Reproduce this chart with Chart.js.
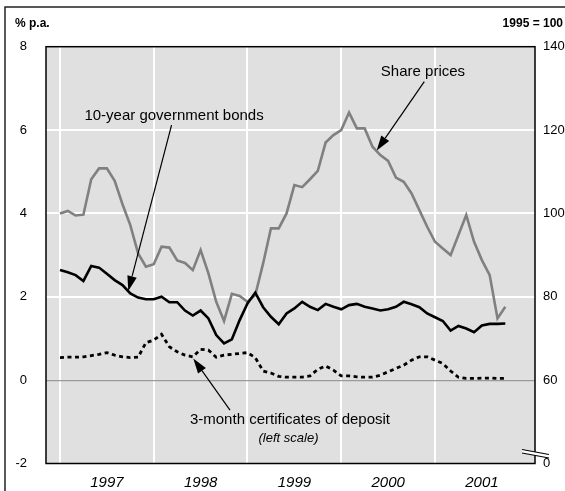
<!DOCTYPE html>
<html><head><meta charset="utf-8">
<script src="https://cdn.jsdelivr.net/npm/chart.js@4/dist/chart.umd.min.js"></script>
<style>html,body{margin:0;padding:0;background:#fff;}canvas{display:block;}</style>
</head><body>
<canvas id="c" width="565" height="491"></canvas>
<script>
// Monthly data, Jan 1997 .. Oct 2001 (index 0 = Jan 1997)
const yearLabels = ['1997', '1998', '1999', '2000', '2001'];
const yearStartMonths = [0, 12, 24, 36, 48];
const sharePrices = [100, 100.6, 99.5, 99.7, 108.2, 110.8, 110.8, 107.8, 102.2, 97.2,
  90.4, 87.2, 87.8, 92.0, 91.8, 88.7, 88.1, 86.4, 91.2, 85.6,
  78.8, 74.2, 80.7, 80.2, 78.8, 80.4, 88.0, 96.4, 96.4, 100.0,
  106.8, 106.3, 108.2, 110.2, 117.0, 118.8, 120.0, 124.2, 120.4, 120.4,
  116.0, 114.0, 112.6, 108.6, 107.6, 104.8, 100.8, 96.8, 93.2, 91.6,
  90.0, 94.8, 99.6, 93.2, 88.8, 85.2, 74.8, 77.6];
const bondYields = [2.64, 2.59, 2.52, 2.38, 2.74, 2.70, 2.55, 2.40, 2.28, 2.08,
  1.98, 1.94, 1.94, 2.00, 1.87, 1.87, 1.67, 1.55, 1.67, 1.48,
  1.08, 0.88, 0.98, 1.44, 1.84, 2.10, 1.75, 1.52, 1.34, 1.60,
  1.72, 1.88, 1.76, 1.68, 1.83, 1.76, 1.70, 1.80, 1.83, 1.76,
  1.72, 1.67, 1.70, 1.76, 1.88, 1.82, 1.75, 1.60, 1.51, 1.42,
  1.19, 1.30, 1.24, 1.15, 1.31, 1.35, 1.35, 1.36];
const cdRates = [0.54, 0.55, 0.55, 0.56, 0.59, 0.62, 0.66, 0.60, 0.56, 0.54,
  0.55, 0.90, 0.96, 1.10, 0.80, 0.68, 0.60, 0.56, 0.74, 0.72,
  0.55, 0.60, 0.62, 0.64, 0.66, 0.54, 0.22, 0.17, 0.09, 0.07,
  0.07, 0.07, 0.10, 0.26, 0.34, 0.24, 0.10, 0.10, 0.08, 0.07,
  0.07, 0.12, 0.20, 0.28, 0.36, 0.48, 0.56, 0.56, 0.48, 0.40,
  0.22, 0.07, 0.04, 0.04, 0.05, 0.05, 0.04, 0.04];
const leftTicks = [-2, 0, 2, 4, 6, 8];
const rightTickValues = [40, 60, 80, 100, 120, 140];
const rightTickLabels = ['0', '60', '80', '100', '120', '140'];

const FONT = "'Liberation Sans', Arial, Helvetica, sans-serif";
const toPoints = arr => arr.map((v, i) => ({x: i, y: v}));

// annotations in data coordinates (x = month index, y = left scale)
const labels = [
  {text: 'Share prices', x: 46.46, y: 7.40, font: '15px ' + FONT},
  {text: '10-year government bonds', x: 14.6, y: 6.34, font: '15px ' + FONT},
  {text: '3-month certificates of deposit', x: 29.44, y: -0.957, font: '15px ' + FONT},
  {text: '(left scale)', x: 29.25, y: -1.39, font: 'italic 13px ' + FONT}
];
const arrows = [
  {from: [46.63, 7.16], to: [40.54, 5.51]},
  {from: [14.28, 6.12], to: [8.74, 2.14]},
  {from: [21.76, -0.72], to: [17.06, 0.52]}
];

function drawArrow(ctx, x1, y1, x2, y2) {
  const ang = Math.atan2(y2 - y1, x2 - x1), L = 15, W = 4.8;
  const bx = x2 - L * Math.cos(ang), by = y2 - L * Math.sin(ang);
  ctx.strokeStyle = '#000'; ctx.lineWidth = 1.2;
  ctx.beginPath(); ctx.moveTo(x1, y1); ctx.lineTo(bx, by); ctx.stroke();
  ctx.fillStyle = '#000';
  ctx.beginPath(); ctx.moveTo(x2, y2);
  ctx.lineTo(bx - W * Math.sin(ang), by + W * Math.cos(ang));
  ctx.lineTo(bx + W * Math.sin(ang), by - W * Math.cos(ang));
  ctx.closePath(); ctx.fill();
}

const decor = {
  id: 'decor',
  beforeDraw(chart) {
    const {ctx, chartArea: a} = chart;
    ctx.save();
    ctx.fillStyle = '#e0e0e0';
    ctx.fillRect(a.left, a.top, a.right - a.left, a.bottom - a.top);
    // outer frame
    ctx.strokeStyle = '#222'; ctx.lineWidth = 1.5;
    ctx.beginPath(); ctx.moveTo(5, 491); ctx.lineTo(5, 7); ctx.lineTo(565, 7); ctx.stroke();
    ctx.fillStyle = '#000'; ctx.font = 'bold 12px ' + FONT; ctx.textBaseline = 'middle';
    ctx.textAlign = 'left'; ctx.fillText('% p.a.', 15, 24);
    ctx.textAlign = 'right'; ctx.fillText('1995 = 100', 563, 24);
    ctx.restore();
  },
  afterDatasetsDraw(chart) {
    const {ctx, chartArea: a, scales} = chart;
    ctx.save();
    ctx.strokeStyle = '#000'; ctx.lineWidth = 1.5;
    ctx.strokeRect(a.left, a.top, a.right - a.left, a.bottom - a.top);
    // axis break marks
    const r = a.right, b = a.bottom;
    ctx.fillStyle = '#fff';
    ctx.beginPath();
    ctx.moveTo(r - 13, b - 14); ctx.lineTo(r + 14, b - 9); ctx.lineTo(r + 14, b - 5.5); ctx.lineTo(r - 13, b - 10.5);
    ctx.closePath(); ctx.fill();
    ctx.strokeStyle = '#000'; ctx.lineWidth = 1.2;
    ctx.beginPath(); ctx.moveTo(r - 13, b - 14); ctx.lineTo(r + 14, b - 9); ctx.stroke();
    ctx.beginPath(); ctx.moveTo(r - 13, b - 10.5); ctx.lineTo(r + 14, b - 5.5); ctx.stroke();
    // labels & arrows
    const px = v => scales.x.getPixelForValue(v), py = v => scales.y.getPixelForValue(v);
    ctx.fillStyle = '#000'; ctx.textAlign = 'center'; ctx.textBaseline = 'middle';
    labels.forEach(l => { ctx.font = l.font; ctx.fillText(l.text, px(l.x), py(l.y)); });
    arrows.forEach(ar => drawArrow(ctx, px(ar.from[0]), py(ar.from[1]), px(ar.to[0]), py(ar.to[1])));
    ctx.restore();
  }
};

new Chart(document.getElementById('c'), {
  type: 'line',
  data: {
    datasets: [
      {label: '10-year government bonds', data: toPoints(bondYields), yAxisID: 'y',
       borderColor: '#000', borderWidth: 2.6, pointRadius: 0, tension: 0},
      {label: '3-month certificates of deposit', data: toPoints(cdRates), yAxisID: 'y',
       borderColor: '#000', borderWidth: 2.8, borderDash: [4, 3.5], pointRadius: 0, tension: 0},
      {label: 'Share prices', data: toPoints(sharePrices), yAxisID: 'y2',
       borderColor: '#808080', borderWidth: 2.6, pointRadius: 0, tension: 0}
    ]
  },
  options: {
    responsive: false, animation: false, events: [],
    layout: {padding: {top: 46.7, left: 0, right: 0, bottom: 0}},
    plugins: {legend: {display: false}, tooltip: {enabled: false}},
    scales: {
      x: {
        type: 'linear', position: 'bottom', min: -1.79, max: 60.8,
        afterBuildTicks: s => { s.ticks = yearStartMonths.map(v => ({value: v})); },
        afterFit: s => { s.height = 27.5; },
        border: {display: false},
        grid: {color: '#ffffff', lineWidth: 2, drawTicks: false},
        ticks: {
          labelOffset: 46.9, padding: 10, maxRotation: 0, autoSkip: false,
          color: '#000', font: {family: FONT, size: 15, style: 'italic'},
          callback: (v) => yearLabels[yearStartMonths.indexOf(v)]
        }
      },
      y: {
        position: 'left', min: -2, max: 8,
        afterBuildTicks: s => { s.ticks = leftTicks.map(v => ({value: v})); },
        afterFit: s => { s.width = 46; },
        border: {display: false},
        grid: {
          drawTicks: false,
          color: c => (c.tick.value === 0 ? '#9a9a9a' : (c.tick.value === -2 || c.tick.value === 8) ? 'rgba(0,0,0,0)' : '#ffffff'),
          lineWidth: c => (c.tick.value === 0 ? 1.2 : 2)
        },
        ticks: {padding: 19, color: '#000', font: {family: FONT, size: 13}}
      },
      y2: {
        position: 'right', min: 40, max: 140,
        afterBuildTicks: s => { s.ticks = rightTickValues.map(v => ({value: v})); },
        afterFit: s => { s.width = 30; },
        border: {display: false},
        grid: {display: false, drawTicks: false},
        ticks: {padding: 8, color: '#000', font: {family: FONT, size: 13},
          callback: v => rightTickLabels[rightTickValues.indexOf(v)]}
      }
    }
  },
  plugins: [decor]
});
</script>
</body></html>
